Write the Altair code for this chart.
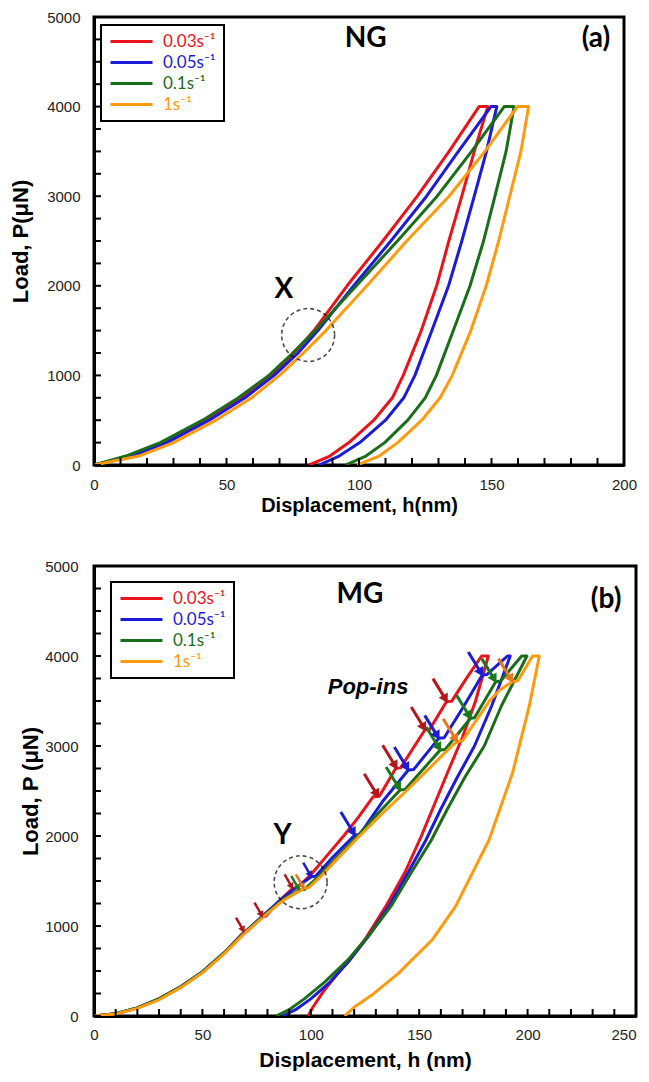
import altair as alt
import pandas as pd

# ---------------- series & colours ----------------
SERIES = ["0.03s⁻¹", "0.05s⁻¹", "0.1s⁻¹", "1s⁻¹"]
LINE_COLORS = ["#e8141b", "#1b1bd8", "#1a6e1a", "#ff9a0f"]
ARROW_COLORS = ["#b3161c", "#1c1cd2", "#197a19", "#e8761c"]

# ---------------- panel (a) NG ----------------
ng_p = [0, 100, 250, 500, 750, 1000, 1250, 1500, 2000, 2500, 3000, 3500, 4000,
        4000, 3500, 3000, 2500, 2000, 1500, 1000, 750, 500, 250, 100, 0]
ng_red_h = [0, 14, 27, 42.5, 56, 67, 75.5, 83, 95.5, 109, 122, 134, 145.3,
            148.6, 143.5, 138.8, 133.9, 129.3, 123.5, 116.7, 112.6, 105.6, 96.2, 89, 81.2]
ng_blue_h = [0, 14, 27.5, 43.5, 57, 68, 77, 84.5, 98, 112, 125.5, 137.5, 149.8,
             152, 148.1, 143.5, 138.8, 133.8, 127.5, 121.1, 116.9, 110, 100.3, 92.5, 84.9]
ng_green_h = [0, 12, 25, 41, 54.5, 66, 75, 83.5, 99, 114.5, 129.5, 142.5, 154.8,
              158.5, 155.5, 151.3, 147, 141.9, 135.6, 129.2, 125, 118.4, 109.7, 102.6, 94.9]
ng_orange_h = [0, 17, 30, 46, 59.5, 70, 79, 87.5, 103, 118, 134, 147.5, 159.8,
               164, 161.1, 156.9, 152.7, 148, 142.2, 135.2, 130.6, 123.7, 114.6, 107.6, 99.3]

ng_xticks = list(range(0, 201, 10))
ng_yticks = list(range(0, 5001, 250))

# ---------------- panel (b) MG ----------------
mg_red_h = [0, 10, 20, 30, 40, 50, 60, 69.2, 70.7, 77.7, 79.2, 85.5, 91.6, 93.8, 100, 106,
            115.5, 122, 128.8, 131.6, 139.2, 141.4, 152.6, 154.8, 162.6, 165, 172, 178.8, 181.9,
            176, 170, 163, 157, 151, 143.5, 134.5, 125, 118.5, 112.5, 106, 101, 98.8]
mg_red_p = [0, 25, 90, 190, 325, 490, 700, 937, 942, 1104, 1108, 1280, 1418, 1425, 1570, 1740,
            2011, 2210, 2437, 2442, 2752, 2757, 3178, 3183, 3493, 3498, 3760, 4000, 4000,
            3500, 3100, 2700, 2350, 2000, 1600, 1215, 850, 650, 474, 280, 100, 0]
mg_blue_h = [0, 10, 20, 30, 40, 50, 60, 70, 80, 87, 94, 100.2, 102.2, 110, 120.3, 122.6, 133,
             145, 147.5, 159, 161.5, 170, 179.1, 181.3, 190.7, 192,
             183.5, 175.5, 167.5, 160, 153, 145, 136, 127, 118, 109, 100, 93, 87]
mg_blue_p = [0, 25, 90, 190, 325, 490, 700, 940, 1160, 1310, 1440, 1548, 1552, 1760, 2011, 2018, 2380,
             2733, 2740, 3085, 3092, 3420, 3789, 3795, 4000, 4000,
             3450, 3000, 2650, 2300, 1950, 1600, 1220, 900, 620, 380, 190, 70, 0]
mg_green_h = [0, 10, 20, 30, 40, 50, 60, 70, 80, 87, 94.7, 97, 104, 110, 121.5, 131, 141.2, 143.5,
              159.7, 162, 173.7, 175.5, 185.3, 187.5, 197.3, 199.7,
              188, 180, 171, 163, 155.5, 146.5, 137, 127, 117, 106.5, 97, 90, 84]
mg_green_p = [0, 25, 90, 190, 325, 490, 700, 940, 1150, 1290, 1400, 1405, 1560, 1710, 2000, 2250, 2511, 2518,
              2956, 2962, 3308, 3315, 3715, 3722, 4000, 4000,
              3450, 3000, 2650, 2300, 1950, 1600, 1220, 900, 620, 380, 190, 70, 0]
mg_orange_h = [0, 10, 20, 30, 40, 50, 60, 70, 80, 87, 96.8, 99, 105, 110, 122.5, 133, 144, 155, 165,
               167.5, 170, 182.4, 187, 193, 195.5, 202.3, 205.4,
               200.7, 193, 182.2, 166.7, 155.9, 140.4, 128, 120.3, 115.6]
mg_orange_p = [0, 22, 85, 180, 315, 480, 690, 930, 1140, 1280, 1418, 1425, 1560, 1690, 2000, 2250, 2500, 2760, 3000,
               3048, 3060, 3500, 3620, 3715, 3725, 4000, 4000,
               3437, 2696, 1956, 1215, 844, 474, 230, 104, 0]

mg_xticks = list(range(0, 251, 10))
mg_yticks = list(range(0, 5001, 250))

# pop-in arrows (tip position, series index)
pop_small_h = [69.2, 77.7, 91.6, 94.7, 96.8, 100.2]
pop_small_p = [937, 1104, 1418, 1400, 1418, 1548]
pop_small_s = [0, 0, 0, 2, 3, 1]
pop_big_h = [120.3, 131.1, 141.2, 139.6, 145, 152.8, 159, 159.7, 167.5, 162.8, 173.7, 179.1, 185.3, 193]
pop_big_p = [2011, 2437, 2511, 2752, 2733, 3178, 3085, 2956, 3048, 3493, 3308, 3789, 3715, 3715]
pop_big_s = [1, 0, 2, 0, 1, 0, 1, 2, 3, 0, 2, 1, 2, 3]

# annotations
ng_circle = {"h": [80.8], "p": [1451]}
mg_circle = {"h": [95.3], "p": [1486]}
ng_labels = {"h": [102.5, 189.4, 71.7], "p": [4750, 4750, 1953], "t": ["NG", "(a)", "X"]}
mg_labels = {"h": [122.7, 236.2, 87], "p": [4678, 4622, 2000], "t": ["MG", "(b)", "Y"]}
mg_popins = {"h": [126.4], "p": [3656], "t": ["Pop-ins"]}


def curves(hs_list, ps_list):
    rows = []
    for s, hs, ps in zip(SERIES, hs_list, ps_list):
        for i, (h, p) in enumerate(zip(hs, ps)):
            rows.append({"series": s, "h": h, "p": p, "i": i})
    return pd.DataFrame(rows)


def arrows(hs, ps, ss):
    return pd.DataFrame({"h": hs, "p": ps, "c": [ARROW_COLORS[s] for s in ss]})


label_color_expr = "".join(
    f"datum.value === '{s}' ? '{c}' : " for s, c in zip(SERIES[:-1], LINE_COLORS[:-1])
) + f"'{LINE_COLORS[-1]}'"

AXIS_STYLE = dict(
    domainColor="black", domainWidth=3, ticks=False,
    labelFont="Liberation Sans", labelFontSize=15, labelColor="#222222",
    titleFont="Liberation Sans", titleFontWeight="bold", titleColor="black", grid=False,
    labelOverlap=False,
)

TICK_PX = 7


def panel(df, xmax, xticks, yticks, W, H, xtitle, ytitle, xtitle_size, ytitle_pad,
          xlabel_pad, ylabel_pad, xtitle_pad, legend_xy, circle, labels, last_right=False):
    xaxis = alt.Axis(
        values=xticks, labelExpr="datum.value % 50 === 0 ? datum.label : ''",
        title=xtitle, titleFontSize=xtitle_size, titlePadding=xtitle_pad, labelPadding=xlabel_pad,
        labelAlign=({"condition": {"test": f"datum.value === {xmax}", "value": "right"}, "value": "center"}
                    if last_right else "center"),
        **AXIS_STYLE,
    )
    yaxis = alt.Axis(
        values=yticks, labelExpr="datum.value % 1000 === 0 ? datum.label : ''", format="d",
        title=ytitle, titleFontSize=22, titlePadding=ytitle_pad, labelPadding=ylabel_pad,
        **AXIS_STYLE,
    )
    xs = alt.Scale(domain=[0, xmax], nice=False)
    ys = alt.Scale(domain=[0, 5000], nice=False)
    X = alt.X("h:Q", scale=xs, axis=xaxis)
    Y = alt.Y("p:Q", scale=ys, axis=yaxis)
    lines = alt.Chart(df).mark_line(strokeWidth=3, strokeJoin="round", clip=True).encode(
        x=X, y=Y,
        color=alt.Color("series:N", scale=alt.Scale(domain=SERIES, range=LINE_COLORS),
                        legend=alt.Legend(
                            orient="none", legendX=legend_xy[0], legendY=legend_xy[1], title=None,
                            symbolType="stroke", symbolSize=1764, symbolStrokeWidth=3,
                            clipHeight=17, rowPadding=3,
                            labelFont="Lato", labelFontSize=17, labelOffset=9,
                            labelColor={"expr": label_color_expr},
                            strokeColor="black", fillColor="white", padding=8)),
        order="i:Q",
    )
    # inward-pointing tick marks along bottom and left frame (drawn on the data scales)
    xt = alt.Chart(pd.DataFrame({"h": xticks, "y0": 0, "y1": 5000 * TICK_PX / H})).mark_rule(
        color="black", strokeWidth=2
    ).encode(x=X, y=alt.Y("y0:Q", scale=ys, axis=yaxis), y2="y1:Q")
    yt = alt.Chart(pd.DataFrame({"p": yticks, "x0": 0, "x1": xmax * TICK_PX / W})).mark_rule(
        color="black", strokeWidth=2
    ).encode(y=Y, x=alt.X("x0:Q", scale=xs, axis=xaxis), x2="x1:Q")
    circ = alt.Chart(pd.DataFrame(circle)).mark_point(
        shape="circle", size=2800, filled=False, color="black", strokeWidth=1.6, strokeDash=[4, 3]
    ).encode(x=X, y=Y)
    txt = alt.Chart(pd.DataFrame(labels)).mark_text(
        font="Lato", fontWeight="bold", fontSize=28, color="black", baseline="middle"
    ).encode(x=X, y=Y, text="t:N")
    return [lines, xt, yt, circ, txt], X, Y


ng_df = curves([ng_red_h, ng_blue_h, ng_green_h, ng_orange_h], [ng_p] * 4)
mg_df = curves([mg_red_h, mg_blue_h, mg_green_h, mg_orange_h],
               [mg_red_p, mg_blue_p, mg_green_p, mg_orange_p])

TW, TH = 530, 448
BW, BH = 542, 450

top_layers, _, _ = panel(ng_df, 200, ng_xticks, ng_yticks, TW, TH,
                         "Displacement, h(nm)", "Load, P(μN)", 20, 14, 12, 14, 3,
                         (7, 8), ng_circle, ng_labels)
top = alt.layer(*top_layers).properties(width=TW, height=TH)

bot_layers, XB, YB = panel(mg_df, 250, mg_xticks, mg_yticks, BW, BH,
                           "Displacement, h (nm)", "Load, P (μN)", 21, 2, 11, 16, 7,
                           (17, 16), mg_circle, mg_labels, last_right=True)

small = arrows(pop_small_h, pop_small_p, pop_small_s)
big = arrows(pop_big_h, pop_big_p, pop_big_s)

small_shaft = alt.Chart(small).mark_rule(
    strokeWidth=2.5, xOffset=-8, yOffset=-14, x2Offset=-2, y2Offset=-3.5
).encode(x=XB, y=YB, x2="h:Q", y2="p:Q", color=alt.Color("c:N", scale=None))
small_head = alt.Chart(small).mark_point(
    shape="triangle", angle=152, size=55, filled=True, opacity=1, xOffset=-1.5, yOffset=-2.7
).encode(x=XB, y=YB, color=alt.Color("c:N", scale=None))
big_shaft = alt.Chart(big).mark_rule(
    strokeWidth=3, xOffset=-14, yOffset=-23, x2Offset=-3, y2Offset=-5
).encode(x=XB, y=YB, x2="h:Q", y2="p:Q", color=alt.Color("c:N", scale=None))
big_head = alt.Chart(big).mark_point(
    shape="triangle", angle=150, size=110, filled=True, opacity=1, xOffset=-2.2, yOffset=-3.8
).encode(x=XB, y=YB, color=alt.Color("c:N", scale=None))
popins_txt = alt.Chart(pd.DataFrame(mg_popins)).mark_text(
    font="Liberation Sans", fontWeight="bold", fontStyle="italic", fontSize=22, color="black",
    baseline="middle"
).encode(x=XB, y=YB, text="t:N")

bottom = alt.layer(*bot_layers, small_shaft, small_head, big_shaft, big_head, popins_txt).properties(
    width=BW, height=BH)

chart = alt.vconcat(top, bottom, spacing=40).resolve_scale(
    color="independent", x="independent", y="independent"
).resolve_legend(color="independent").properties(
    padding={"left": 0, "top": 0, "right": 0, "bottom": 0}
).configure_view(
    stroke="black", strokeWidth=3
).configure_legend(strokeWidth=2)

chart.save("out.html", embed_options={"renderer": "svg", "actions": False})
